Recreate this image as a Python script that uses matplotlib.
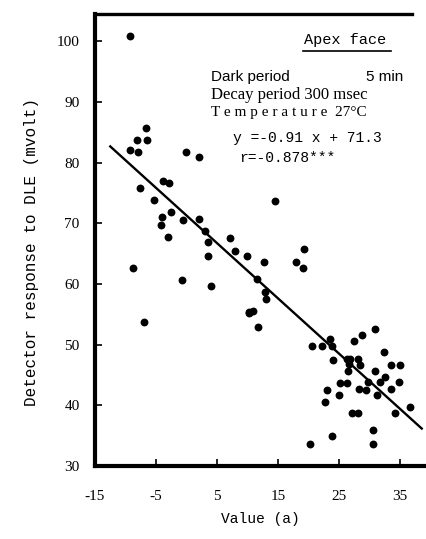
import matplotlib
matplotlib.use("Agg")
import matplotlib.pyplot as plt
import numpy as np

# Measured values: x = Value (a), y = detector response to DLE (mvolt)
value_a = [
    -9.3, -6.6, -8.1, -6.4, -9.2, -8.0, 0.0, 2.0,
    -3.8, -2.8, -7.6, -5.4, -2.5, -4.0, -4.2, -0.6, 2.1, -3.1, 3.0, 3.5,
    7.1, 8.0, 10.0, 3.6, -8.8, -0.8, 4.0, -7.0, 10.2,
    14.6, 12.8, 19.3, 17.9, 19.2, 11.6, 12.9, 13.1, 10.2, 10.9, 11.8,
    31.0, 28.8, 27.5, 23.6, 20.6, 22.3, 23.8, 32.4, 24.0, 26.3, 26.9, 28.2,
    33.6, 35.1, 26.6, 28.5, 26.5, 30.9, 32.5, 31.8, 25.2, 26.4, 34.9, 29.8,
    28.3, 29.5, 33.5, 23.0, 31.3, 25.1, 22.8, 36.6, 34.2, 27.2, 28.2,
    30.6, 23.8, 30.6, 20.3,
]
response = [
    100.9, 85.7, 83.8, 83.7, 82.1, 81.7, 81.7, 81.0,
    77.0, 76.7, 75.9, 73.9, 71.8, 71.1, 69.8, 70.5, 70.7, 67.7, 68.8, 66.9,
    67.6, 65.5, 64.6, 64.6, 62.7, 60.6, 59.6, 53.7, 55.4,
    73.7, 63.7, 65.8, 63.7, 62.6, 60.8, 58.7, 57.5, 55.3, 55.6, 52.9,
    52.6, 51.6, 50.6, 50.9, 49.7, 49.8, 49.8, 48.8, 47.5, 47.7, 47.7, 47.7,
    46.6, 46.6, 46.8, 46.6, 45.7, 45.7, 44.6, 43.8, 43.7, 43.7, 43.8, 43.8,
    42.7, 42.5, 42.7, 42.5, 41.7, 41.7, 40.5, 39.8, 38.8, 38.7, 38.7,
    35.9, 34.9, 33.7, 33.6,
]

# Regression reported on the chart
slope, intercept = -0.91, 71.3
fit_x = [-12.5, 38.6]

x_ticks = [-15, -5, 5, 15, 25, 35]
x_tick_labels = ["-15", "-5", "5", "15", "25", "35"]
y_ticks = [30, 40, 50, 60, 70, 80, 90, 100]
y_tick_labels = ["30", "40", "50", "60", "70", "80", "90", "100"]

W, H = 426, 539
fig = plt.figure(figsize=(W / 100, H / 100), dpi=100)
ax = fig.add_axes([95 / W, 1 - 466 / H, (426 - 95) / W, (466 - 14) / H])

ax.scatter(value_a, response, s=32, color="black", linewidths=0, zorder=3)
fx = np.array(fit_x)
ax.plot(fx, slope * fx + intercept, color="black", lw=1.7, zorder=2)

ax.set_xlim(-15, 39.3)
ax.set_ylim(30, 104.5)

serif = "Liberation Serif"
mono = "Liberation Mono"

ax.set_xticks(x_ticks)
ax.set_xticklabels(x_tick_labels, fontfamily=serif, fontsize=11)
ax.set_yticks(y_ticks)
ax.set_yticklabels(y_tick_labels, fontfamily=serif, fontsize=11)
ax.tick_params(axis="x", direction="in", length=5, width=1.2, pad=17)
ax.tick_params(axis="y", direction="in", length=5, width=1.2, pad=11)

for side in ["left", "bottom"]:
    ax.spines[side].set_linewidth(3.0)
ax.spines["top"].set_linewidth(2.4)
ax.spines["top"].set_bounds(-15, 37.0)
ax.spines["right"].set_visible(False)

ax.set_xlabel("Value (a)", fontfamily=mono, fontsize=10.5, labelpad=7)
ax.set_ylabel("Detector response to DLE (mvolt)", fontfamily=mono,
              fontsize=11.5)
ax.yaxis.set_label_coords(-0.169, 0.473)


def px(x, y):
    return x / W, 1 - y / H


fig.text(*px(345, 40), "Apex face", fontfamily=mono, fontsize=11,
         ha="center", va="center")
fig.add_artist(plt.Line2D([303 / W, 391 / W], [1 - 51 / H, 1 - 51 / H],
                          color="black", lw=1.2))
fig.text(*px(211, 77), "Dark period", fontfamily="Liberation Sans",
         fontsize=11, ha="left", va="center")
fig.text(*px(403, 77), "5 min", fontfamily="Liberation Sans",
         fontsize=11, ha="right", va="center")
fig.text(*px(211, 95), "Decay period 300 msec", fontfamily=serif,
         fontsize=12, ha="left", va="center")
fig.text(*px(211, 112), "T e m p e r a t u r e  27°C", fontfamily=serif,
         fontsize=11, ha="left", va="center")
fig.text(*px(233, 138), "y =-0.91 x + 71.3", fontfamily=mono,
         fontsize=10.5, ha="left", va="center")
fig.text(*px(239, 158), "r=-0.878***", fontfamily=mono,
         fontsize=10.5, ha="left", va="center")

fig.savefig("out.png", dpi=100)
